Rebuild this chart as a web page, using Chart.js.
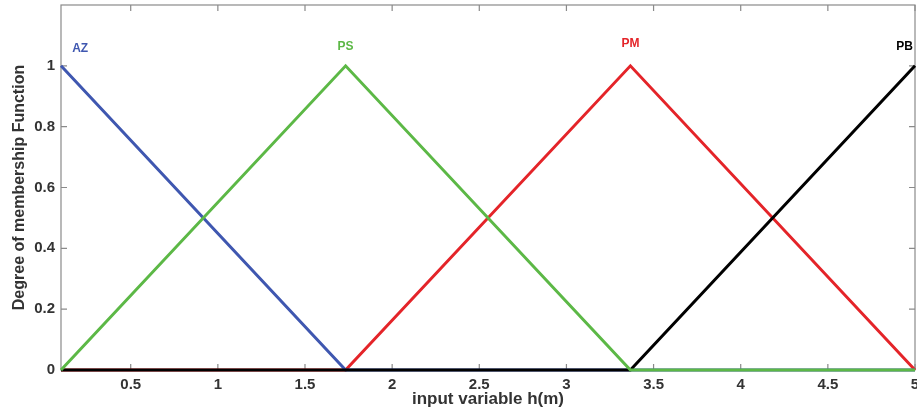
<!DOCTYPE html>
<html>
<head>
<meta charset="utf-8">
<script src="https://cdn.jsdelivr.net/npm/chart.js@4/dist/chart.umd.min.js"></script>
<style>
  html, body { margin: 0; padding: 0; background: #fff; }
  #wrap { width: 917px; height: 410px; }
</style>
</head>
<body>
<div id="wrap"><canvas id="chart"></canvas></div>
<script>
// breakpoints of the membership functions (input variable h(m))
const hPoints = [0.1, 1.733, 3.367, 5];
const mfAZ = [1, 0, 0, 0];
const mfPS = [0, 1, 0, 0];
const mfPM = [0, 0, 1, 0];
const mfPB = [0, 0, 0, 1];

const xTicks = [0.5, 1, 1.5, 2, 2.5, 3, 3.5, 4, 4.5, 5];
const yTicks = [0, 0.2, 0.4, 0.6, 0.8, 1];

// term names and where they sit (chart units)
const termNames = ['AZ', 'PS', 'PM', 'PB'];
const termX = [0.21, 1.733, 3.367, 4.94];
const termY = [1.058, 1.062, 1.072, 1.062];
const termColors = ['#3f57b0', '#5cb846', '#e42429', '#000000'];

function toPoints(ys) {
    return hPoints.map((x, i) => ({ x: x, y: ys[i] }));
}

// box around the plot + inward ticks, like matlab
const boxPlugin = {
    id: 'box',
    beforeDatasetsDraw(chart) {
        const ctx = chart.ctx;
        const a = chart.chartArea;
        const xs = chart.scales.x, ys = chart.scales.y;
        ctx.save();
        ctx.strokeStyle = '#8a8a8a';
        ctx.lineWidth = 1.2;
        ctx.strokeRect(a.left, a.top, a.right - a.left, a.bottom - a.top);
        ctx.beginPath();
        xTicks.forEach(v => {
            const px = xs.getPixelForValue(v);
            ctx.moveTo(px, a.bottom); ctx.lineTo(px, a.bottom - 6);
            ctx.moveTo(px, a.top); ctx.lineTo(px, a.top + 6);
        });
        yTicks.forEach(v => {
            const py = ys.getPixelForValue(v);
            ctx.moveTo(a.left, py); ctx.lineTo(a.left + 6, py);
            ctx.moveTo(a.right, py); ctx.lineTo(a.right - 6, py);
        });
        ctx.stroke();
        ctx.restore();
    },
    afterDatasetsDraw(chart) {
        const ctx = chart.ctx;
        const xs = chart.scales.x, ys = chart.scales.y;
        ctx.save();
        ctx.font = 'bold 12px "Liberation Sans", Arial, sans-serif';
        ctx.textAlign = 'center';
        ctx.textBaseline = 'middle';
        termNames.forEach((t, i) => {
            ctx.fillStyle = termColors[i];
            ctx.fillText(t, xs.getPixelForValue(termX[i]), ys.getPixelForValue(termY[i]));
        });
        ctx.restore();
    }
};

const tickFont = { family: '"Liberation Sans", Arial, sans-serif', size: 15, weight: 'bold' };
const ffam = '"Liberation Sans", Arial, sans-serif';

new Chart(document.getElementById('chart'), {
    type: 'line',
    data: {
        datasets: [
            { label: 'AZ', data: toPoints(mfAZ), borderColor: termColors[0], order: 3, clip: false },
            { label: 'PS', data: toPoints(mfPS), borderColor: termColors[1], order: 1, clip: false },
            { label: 'PM', data: toPoints(mfPM), borderColor: termColors[2], order: 4, clip: false },
            { label: 'PB', data: toPoints(mfPB), borderColor: termColors[3], order: 2, clip: false }
        ]
    },
    options: {
        responsive: true,
        maintainAspectRatio: false,
        animation: false,
        layout: { autoPadding: false, padding: { top: 5, right: 2, left: 10, bottom: 0 } },
        elements: {
            line: { borderWidth: 3, tension: 0, fill: false },
            point: { radius: 0, hoverRadius: 0, hitRadius: 0 }
        },
        plugins: {
            legend: { display: false },
            tooltip: { enabled: false }
        },
        scales: {
            x: {
                type: 'linear',
                min: 0.1,
                max: 5,
                afterBuildTicks: s => { s.ticks = xTicks.map(v => ({ value: v })); },
                afterFit: s => { s.height = 40; s.paddingLeft = 0; s.paddingRight = 0; },
                grid: { display: false, drawTicks: false },
                border: { display: false },
                ticks: { font: tickFont, color: '#333', padding: 6, maxRotation: 0, autoSkip: false,
                         callback: v => String(v) },
                title: { display: true, text: 'input variable h(m)', font: { family: ffam, size: 17, weight: 'bold' },
                         color: '#333', padding: { top: -5, bottom: 0 } }
            },
            y: {
                type: 'linear',
                min: 0,
                max: 1.2,
                afterBuildTicks: s => { s.ticks = yTicks.map(v => ({ value: v })); },
                afterFit: s => { s.width = 51; s.paddingTop = 0; s.paddingBottom = 0; },
                grid: { display: false, drawTicks: false },
                border: { display: false },
                ticks: { font: tickFont, color: '#333', padding: 6, callback: v => String(v) },
                title: { display: true, text: 'Degree of membership Function', font: { family: ffam, size: 16, weight: 'bold' },
                         color: '#333', padding: { top: 0, bottom: 0 } }
            }
        }
    },
    plugins: [boxPlugin]
});
</script>
</body>
</html>
